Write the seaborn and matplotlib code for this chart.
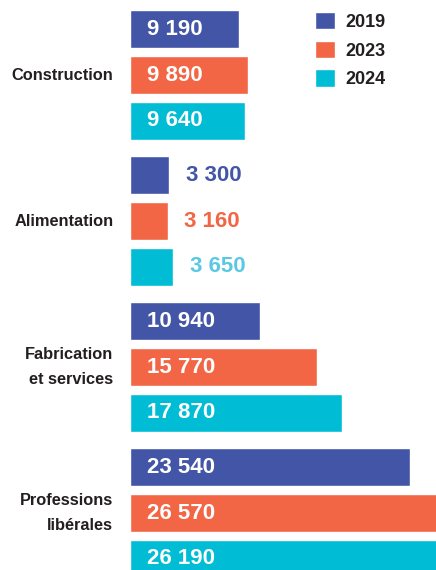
import numpy as np
import pandas as pd
import seaborn as sns
import matplotlib.pyplot as plt

# data
categories = ["Construction", "Alimentation", "Fabrication\net services", "Professions\nlibérales"]
years = ["2019", "2023", "2024"]
v2019 = [9190, 3300, 10940, 23540]
v2023 = [9890, 3160, 15770, 26570]
v2024 = [9640, 3650, 17870, 26190]

colors = ["#4355A6", "#F26645", "#00BCD4"]
out_colors = ["#4355A6", "#F26645", "#5BC8E3"]

df = pd.DataFrame({
    "cat": categories * 3,
    "year": [y for y in years for _ in categories],
    "value": v2019 + v2023 + v2024,
})

sns.set_theme(style="white")
plt.rcParams["font.family"] = ["Liberation Sans", "DejaVu Sans"]

fig = plt.figure(figsize=(4.36, 5.70), dpi=100)
ax = fig.add_axes([130 / 436, 0, 306 / 436, 1])

sns.barplot(data=df, y="cat", x="value", hue="year", order=categories,
            hue_order=years, palette=colors, orient="h", width=0.94, gap=0.17,
            saturation=1, ax=ax)

ax.set_xlim(0, 25740)
ax.set_ylim(3.39, -0.514)
ax.set_xlabel("")
ax.set_ylabel("")
ax.set_xticks([])
for s in ax.spines.values():
    s.set_visible(False)

ax.tick_params(axis="y", length=0, pad=12)
ax.set_yticks(range(len(categories)))
ax.set_yticklabels(categories, fontsize=11.8, fontweight="bold", color="#231F20",
                   linespacing=1.9, va="center")
for t in ax.get_yticklabels():
    t.set_y(t.get_position()[1] - 0.02)

def fmt(v):
    return f"{v:,}".replace(",", " ")

for i, cont in enumerate(ax.containers):
    for bar, v in zip(cont, df[df.year == years[i]].value):
        yc = bar.get_y() + bar.get_height() / 2
        if v < 5000:
            ax.annotate(fmt(v), (bar.get_width(), yc), xytext=(12, 0),
                        textcoords="offset points", va="center", ha="left",
                        fontsize=16, fontweight="bold", color=out_colors[i])
        else:
            ax.annotate(fmt(v), (0, yc), xytext=(12, 0),
                        textcoords="offset points", va="center", ha="left",
                        fontsize=16, fontweight="bold", color="white")

handles, labels = ax.get_legend_handles_labels()
ax.legend(handles, labels, loc="upper left", bbox_to_anchor=(315 / 436, 1 - 12 / 570),
          bbox_transform=fig.transFigure, frameon=False, borderpad=0, borderaxespad=0,
          handlelength=1.1, handleheight=1.1, handletextpad=0.6, labelspacing=0.55,
          prop={"size": 13, "weight": "bold"}, labelcolor="#231F20")

fig.savefig("out.png", dpi=100)
